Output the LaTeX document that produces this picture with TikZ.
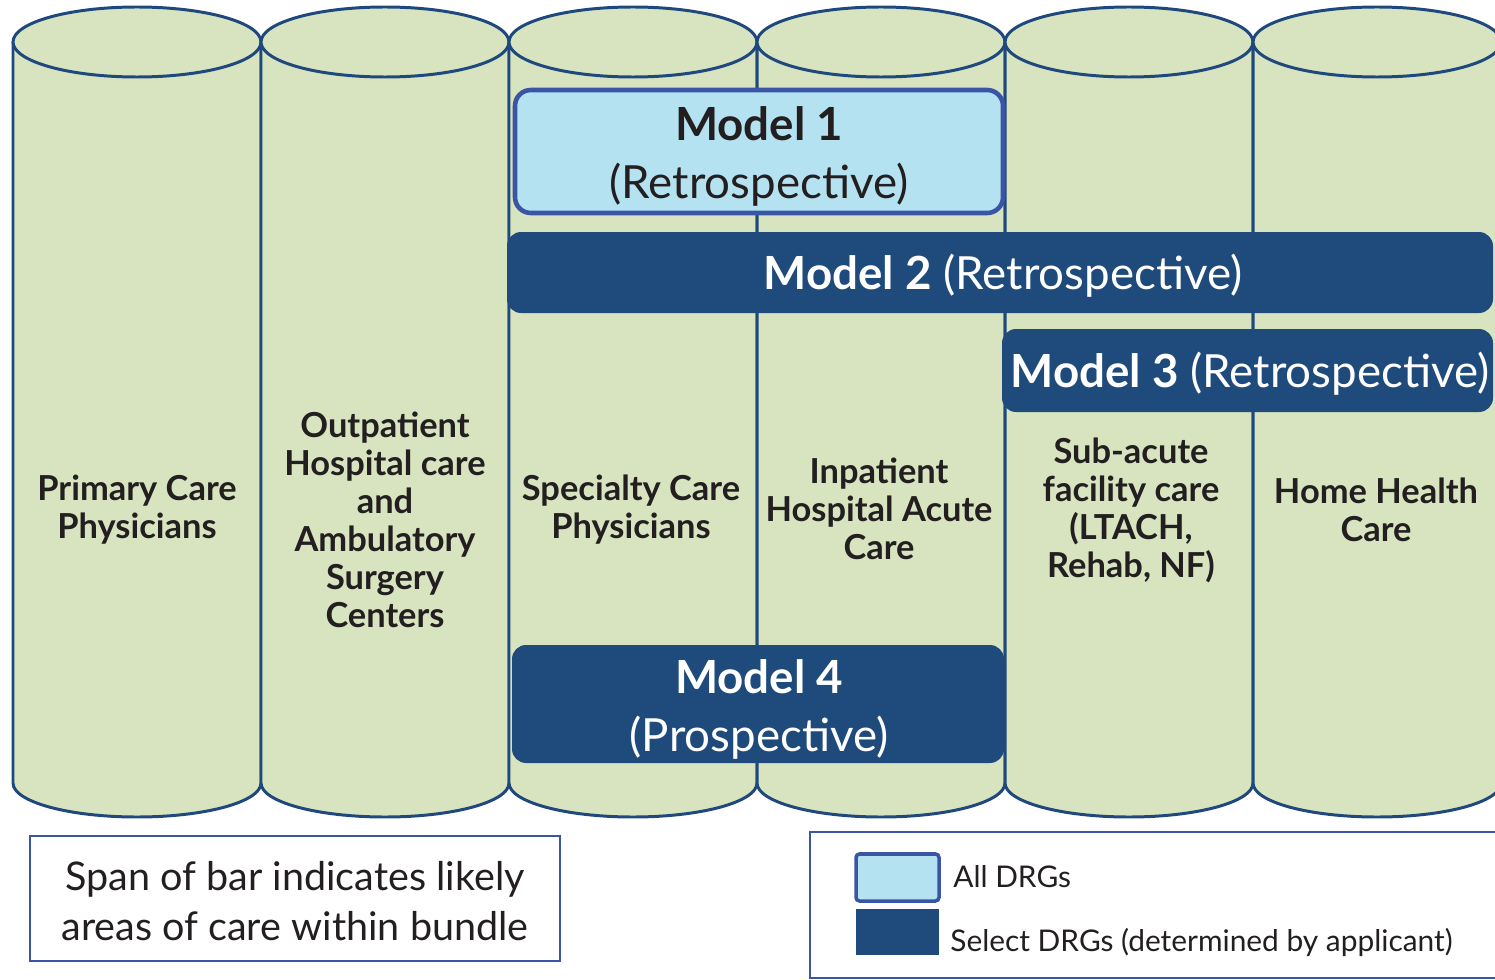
\documentclass[tikz,border=0pt]{standalone}
\usepackage{fontspec}
\setmainfont{Lato}
\usetikzlibrary{positioning}
\definecolor{pillargreen}{HTML}{D8E4BF}
\definecolor{rimblue}{HTML}{1F497D}
\definecolor{navybar}{HTML}{1F4A7C}
\definecolor{skybar}{HTML}{B5E2F1}
\definecolor{skyrim}{HTML}{3A55A5}
\definecolor{ink}{HTML}{231F20}
\tikzset{
  pillar/.style={fill=pillargreen, draw=rimblue, line width=1.7pt},
  colname/.style={align=center, text=ink, font=\bfseries\fontsize{19.6}{21.6}\selectfont},
  allbar/.style={fill=skybar, draw=skyrim, line width=2.6pt, rounded corners=9pt},
  selbar/.style={fill=navybar, rounded corners=8pt},
  bartext/.style={align=center, text=white, font=\fontsize{26}{33}\selectfont},
  keybox/.style={draw=skyrim, line width=1.6pt},
  keytext/.style={anchor=west, inner sep=0pt, text=ink, font=\fontsize{17}{20}\selectfont}
}

\begin{document}
\begin{tikzpicture}[x=0.02cm, y=-0.02cm]
\useasboundingbox (0,0) rectangle (1495,980);
\clip (0,0) rectangle (1495,980);
% the six care settings
\foreach \l in {13,261,509,757,1005,1253} {
  \draw[pillar] (\l,42) -- (\l,783) arc[start angle=180, end angle=0, x radius=124, y radius=34] -- (\l+248,42);
  \draw[pillar] (\l+124,42) ellipse [x radius=124, y radius=35];
}
\node[colname] (primary) at (137,510) {Primary Care\\Physicians};
\node[colname] (outpatient) at (385,520) {Outpatient\\Hospital care\\and\\Ambulatory\\Surgery\\Centers};
\node[colname] (specialty) at (631,510) {Specialty Care\\Physicians};
\node[colname] (inpatient) at (879,509) {Inpatient\\Hospital Acute\\Care};
\node[colname] (subacute) at (1131,510) {Sub-acute\\facility care\\(LTACH,\\Rehab, NF)};
\node[colname] (homehealth) at (1376,510) {Home Health\\Care};
% model bars
\draw[allbar] (515,90) rectangle (1003,213);
\node[bartext, text=ink] (model1) at (759,156) {\textbf{Model 1}\\(Retrospective)};
\fill[selbar] (507,232) rectangle (1493,313);
\node[bartext] (model2) at (1003,276) {\textbf{Model 2} (Retrospective)};
\fill[selbar] (1002,329) rectangle (1493,412);
\node[bartext] (model3) at (1250,374) {\textbf{Model 3} (Retrospective)};
\fill[selbar] (512,645) rectangle (1004,763);
\node[bartext] (model4) at (759,709) {\textbf{Model 4}\\(Prospective)};
% legend
\draw[keybox] (30,836) rectangle (560,961);
\node[align=center, text=ink, font=\fontsize{22.5}{28.5}\selectfont] (span) at (295,901) {Span of bar indicates likely\\areas of care within bundle};
\draw[keybox] (810,832) rectangle (1520,978);
\draw[allbar, line width=2pt, rounded corners=2pt] (856,854) rectangle (939,901);
\fill[navybar] (856,909) rectangle (939,955);
\node[keytext] (alldrg) at (953,877) {All DRGs};
\node[keytext] (seldrg) at (950,942) {Select DRGs (determined by applicant)};
\end{tikzpicture}
\end{document}
